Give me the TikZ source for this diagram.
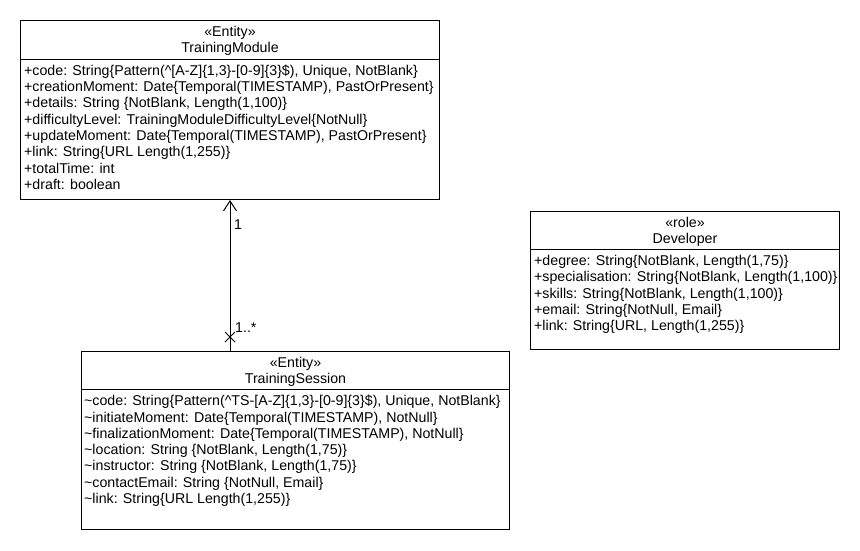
\documentclass[tikz,border=0pt]{standalone}
\usepackage{fontspec}
\setmainfont{Liberation Sans}
\usetikzlibrary{positioning, arrows.meta, shapes.misc}
\tikzset{
    classbox/.style={draw, line width=1pt, anchor=north west, inner sep=0pt},        % Outer frame of a class
    stereo/.style={align=center, inner sep=0pt, font=\fontsize{14.2}{16.5}\selectfont}, % Stereotype and class name
    attrs/.style={anchor=north west, align=left, inner sep=0pt,
                  font=\fontsize{14.2}{16.3}\selectfont},                            % Attribute compartment
    mult/.style={inner sep=0pt, font=\fontsize{14.2}{16}\selectfont},                % Multiplicity labels
    assoc/.style={line width=1pt, -{Straight Barb[length=10pt, width=13pt]}}         % Navigable association
}

\begin{document}
\begin{tikzpicture}[x=1pt, y=-1pt]
            \useasboundingbox (0,0) rectangle (860,550);

            % Define class frames
            \node [classbox, minimum width=419pt, minimum height=179pt] (tmBox) at (20,20) {};
            \node [classbox, minimum width=428pt, minimum height=178pt] (tsBox) at (81,351) {};
            \node [classbox, minimum width=309pt, minimum height=138pt] (devBox) at (530,211) {};

            % Compartment separators
            \draw [line width=1pt] (tmBox.west |- 0,59) -- (tmBox.east |- 0,59);
            \draw [line width=1pt] (tsBox.west |- 0,389) -- (tsBox.east |- 0,389);
            \draw [line width=1pt] (devBox.west |- 0,249) -- (devBox.east |- 0,249);

            % Headers
            \node [stereo, below=6pt of tmBox.north] (tmHead) {«Entity»\\TrainingModule};
            \node [stereo, below=6pt of tsBox.north] (tsHead) {«Entity»\\TrainingSession};
            \node [stereo, below=6pt of devBox.north] (devHead) {«role»\\Developer};

            % Attributes
            \node [attrs] (tmAttrs) at (24,64.5) {%
                +code: String\{Pattern(\textasciicircum[A-Z]\{1,3\}-[0-9]\{3\}\$), Unique, NotBlank\}\\
                +creationMoment: Date\{Temporal(TIMESTAMP), PastOrPresent\}\\
                +details: String \{NotBlank, Length(1,100)\}\\
                +difficultyLevel: TrainingModuleDifficultyLevel\{NotNull\}\\
                +updateMoment: Date\{Temporal(TIMESTAMP), PastOrPresent\}\\
                +link: String\{URL Length(1,255)\}\\
                +totalTime: int\\
                +draft: boolean};
            \node [attrs] (tsAttrs) at (84,395) {%
                \textasciitilde code: String\{Pattern(\textasciicircum TS-[A-Z]\{1,3\}-[0-9]\{3\}\$), Unique, NotBlank\}\\
                \textasciitilde initiateMoment: Date\{Temporal(TIMESTAMP), NotNull\}\\
                \textasciitilde finalizationMoment: Date\{Temporal(TIMESTAMP), NotNull\}\\
                \textasciitilde location: String \{NotBlank, Length(1,75)\}\\
                \textasciitilde instructor: String \{NotBlank, Length(1,75)\}\\
                \textasciitilde contactEmail: String \{NotNull, Email\}\\
                \textasciitilde link: String\{URL Length(1,255)\}};
            \node [attrs] (devAttrs) at (534,255) {%
                +degree: String\{NotBlank, Length(1,75)\}\\
                +specialisation: String\{NotBlank, Length(1,100)\}\\
                +skills: String\{NotBlank, Length(1,100)\}\\
                +email: String\{NotNull, Email\}\\
                +link: String\{URL, Length(1,255)\}};

            % Association
            \node [draw, cross out, line width=1pt, minimum size=9pt, inner sep=0pt] (tsEnd) at (230,337) {};
            \draw [assoc] (tsEnd |- tsBox.north) -- (tsEnd |- tmBox.south);
            \node [mult, anchor=west] (tmMult) at (234,225) {1};
            \node [mult, anchor=west] (tsMult) at (235,328) {1..*};
        \end{tikzpicture}
\end{document}
